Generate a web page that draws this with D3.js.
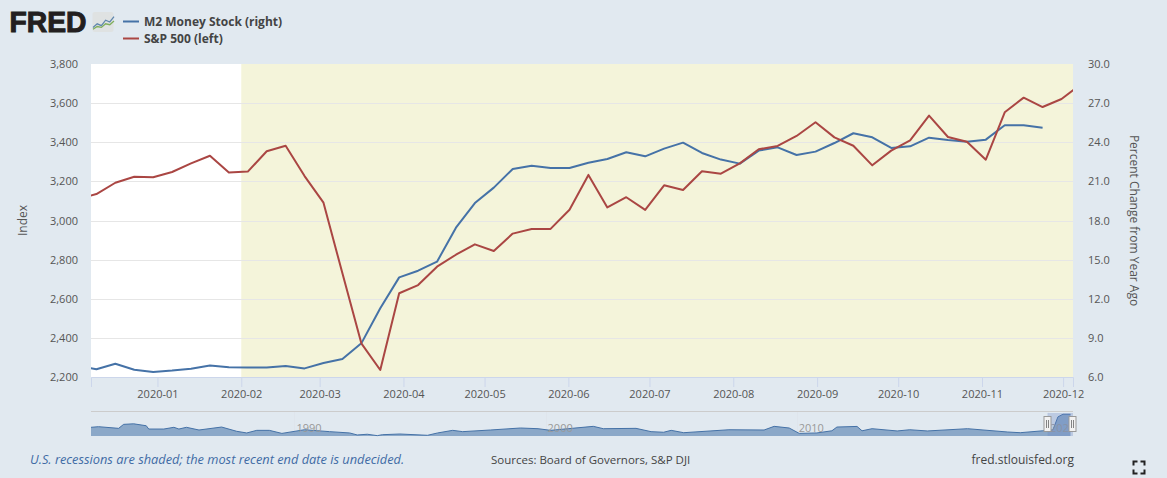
<!DOCTYPE html>
<html>
<head>
<meta charset="utf-8">
<script src="https://cdn.jsdelivr.net/npm/d3@7"></script>
<style>
html,body{margin:0;padding:0;background:#e1e9f0;overflow:hidden}
svg{display:block}
text{font-family:"Open Sans",sans-serif}
</style>
</head>
<body>
<svg id="c" width="1167" height="478"></svg>
<script>
const sp500 = [3110,3135,3193,3224,3221,3248,3292,3331,3245,3250,3354,3382,3227,3091,2730,2372,2236,2628,2670,2764,2825,2878,2844,2933,2957,2957,3055,3233,3067,3119,3054,3180,3156,3252,3239,3292,3364,3381,3432,3502,3425,3382,3282,3357,3410,3536,3427,3403,3311,3553,3628,3580,3621,3695];
const m2 = [6.87,6.59,7.02,6.56,6.38,6.49,6.64,6.89,6.74,6.72,6.72,6.84,6.66,7.07,7.38,8.58,11.27,13.64,14.15,14.84,17.45,19.34,20.52,21.95,22.2,22.03,22.03,22.43,22.72,23.23,22.92,23.51,23.97,23.18,22.67,22.36,23.36,23.61,23.02,23.28,23.94,24.69,24.38,23.56,23.69,24.35,24.17,24.04,24.2,25.3,25.3,25.12];
const navYears = [1981.9,1982.2,1983.0,1983.2,1983.6,1984.1,1984.2,1984.8,1985.2,1985.4,1985.7,1986.2,1987.1,1987.7,1988.1,1988.5,1989.0,1989.5,1990.4,1991.4,1992.2,1992.5,1992.9,1993.3,1993.5,1994.2,1995.3,1995.7,1996.3,1996.7,1997.8,1999.0,1999.7,2000.2,2001.9,2002.3,2003.6,2004.2,2004.7,2005.0,2005.5,2007.3,2008.7,2009.1,2009.7,2010.1,2010.8,2011.4,2011.6,2012.4,2012.6,2013.0,2014.0,2014.5,2015.2,2016.8,2018.4,2018.9,2019.8,2020.2,2020.4,2020.6,2020.9];
const navValues = [10,10.7,8.8,13.4,14,11.8,8,8,10,8,10,6.9,10.3,5.4,3.5,6.5,6.5,3,7.2,5,3.5,1.2,2,0.4,1.5,2.3,0.8,3.5,6.5,5,6.9,9.2,8.4,6.5,11.1,8.4,8.8,5,4.3,6.5,3.8,7.2,6.9,11.1,9.2,3,3.5,6,10.3,11,6,8.4,5.8,7.2,5.8,8.4,4.6,3.8,6,7,22,25,25];
const navLabels = [1990,2000,2010,2020];
const leftTicks = [2200,2400,2600,2800,3000,3200,3400,3600,3800];
const rightTicks = [6,9,12,15,18,21,24,27,30];
const firstWeek = new Date(Date.UTC(2019,11,2,10));
const weeks = d3.range(sp500.length).map(i => d3.utcDay.offset(firstWeek, 7*i));
const recessionStart = new Date(Date.UTC(2020,1,1));
const legendNames = ["M2 Money Stock (right)","S&P 500 (left)"];
const blue="#4572a7", red="#aa4643";

const L=91,R=1073,T=64,B=377;
const svg=d3.select("#c");
svg.append("defs").append("clipPath").attr("id","plot").append("rect").attr("x",L).attr("y",T-2).attr("width",R-L).attr("height",B-T+4);

const x=d3.scaleUtc().domain([new Date(Date.UTC(2019,11,7,10)),new Date(Date.UTC(2020,11,4,16))]).range([L,R]);
const yL=d3.scaleLinear().domain([2200,3800]).range([B,T]);
const yR=d3.scaleLinear().domain([6,30]).range([B,T]);

svg.append("rect").attr("x",L).attr("y",T).attr("width",R-L).attr("height",B-T).attr("fill","#fff");
svg.append("rect").attr("x",x(recessionStart)).attr("y",T).attr("width",R-x(recessionStart)).attr("height",B-T).attr("fill","#f4f4da");

svg.append("g").selectAll("line").data(leftTicks.slice(1,-1)).join("line")
  .attr("x1",L).attr("x2",R).attr("y1",d=>Math.round(yL(d))+.5).attr("y2",d=>Math.round(yL(d))+.5)
  .attr("stroke","#e6e6e6").attr("stroke-width",1);

// x axis
const xAxis=d3.axisBottom(x).tickValues(d3.utcMonth.range(new Date(Date.UTC(2020,0,1)),new Date(Date.UTC(2020,11,2)))).tickFormat(d3.utcFormat("%Y-%m")).tickSize(10).tickPadding(3);
const gx=svg.append("g").attr("transform",`translate(0,${B})`).call(xAxis);
gx.select(".domain").attr("stroke","#ccd6eb");
gx.selectAll(".tick line").attr("stroke","#ccd6eb");
gx.selectAll("text").attr("fill","#555").style("font-size","11px").style("font-family",'"Open Sans",sans-serif');

// y axes
const gl=svg.append("g").attr("transform",`translate(${L},0)`).call(d3.axisLeft(yL).tickValues(leftTicks).tickFormat(d3.format(",")).tickSize(0).tickPadding(13));
gl.select(".domain").remove();
gl.selectAll("text").attr("fill","#555").style("font-size","11px").style("font-family",'"Open Sans",sans-serif');
const gr=svg.append("g").attr("transform",`translate(${R},0)`).call(d3.axisRight(yR).tickValues(rightTicks).tickFormat(d3.format(".1f")).tickSize(0).tickPadding(15));
gr.select(".domain").remove();
gr.selectAll("text").attr("fill","#555").style("font-size","11px").style("font-family",'"Open Sans",sans-serif');

svg.append("text").attr("transform","translate(27,220.5) rotate(-90)").attr("text-anchor","middle").attr("fill","#555").style("font-size","12px").text("Index");
svg.append("text").attr("transform","translate(1130,220.5) rotate(90)").attr("text-anchor","middle").attr("fill","#555").style("font-size","12px").text("Percent Change from Year Ago");

// lines
const plot=svg.append("g").attr("clip-path","url(#plot)");
const lineOf=(y,vals)=>d3.line().x((d,i)=>x(weeks[i])).y(d=>y(d))(vals);
plot.append("path").attr("d",lineOf(yR,m2)).attr("fill","none").attr("stroke",blue).attr("stroke-width",2).attr("stroke-linejoin","round");
plot.append("path").attr("d",lineOf(yL,sp500)).attr("fill","none").attr("stroke",red).attr("stroke-width",2).attr("stroke-linejoin","round");

// legend
[blue,red].forEach((c,i)=>{
  const yy=21.5+i*17;
  svg.append("line").attr("x1",123).attr("x2",139).attr("y1",yy).attr("y2",yy).attr("stroke",c).attr("stroke-width",2);
  svg.append("text").attr("x",144).attr("y",yy+4).attr("fill","#444").style("font-size","12px").style("font-weight","700").text(legendNames[i]);
});

// logo
svg.append("text").attr("x",9.5).attr("y",31.5).attr("fill","#231f20").attr("textLength",77).attr("lengthAdjust","spacingAndGlyphs")
  .style("font-family",'"Liberation Sans",sans-serif').style("font-size","29px").style("font-weight","700").style("stroke","#231f20").style("stroke-width","1").text("FRED");
svg.append("rect").attr("x",92.5).attr("y",12).attr("width",21).attr("height",20).attr("rx",2).attr("fill","#dfe2e2");
const iconX=d3.scaleLinear().domain([0,5]).range([93,114]);
const iconY=d3.scaleLinear().domain([0,10]).range([31,13]);
const iconBlue=[2,4,3,6,5,8], iconGreen=[1,2.5,2,4,3.5,5.5];
[[iconBlue,"#5f87ad"],[iconGreen,"#7fae5c"]].forEach(([v,c])=>{
  svg.append("path").attr("d",d3.line().x((d,i)=>iconX(i)).y(d=>iconY(d))(v)).attr("fill","none").attr("stroke",c).attr("stroke-width",1.3);
});

// navigator
const nx=d3.scaleLinear().domain([1981.9,2021]).range([L,R]);
const ny=d3.scaleLinear().domain([0,25.3]).range([436,414]);
svg.append("line").attr("x1",L).attr("x2",R).attr("y1",411.5).attr("y2",411.5).attr("stroke","#ccc");
navLabels.forEach(yr=>{
  svg.append("line").attr("x1",Math.round(nx(yr))+.5).attr("x2",Math.round(nx(yr))+.5).attr("y1",412).attr("y2",436).attr("stroke","#dfe5ec");
});
svg.append("path").attr("d",d3.area().x((d,i)=>nx(navYears[i])).y0(436).y1(d=>ny(d))(navValues)).attr("fill",blue).attr("fill-opacity",.55);
svg.append("path").attr("d",d3.line().x((d,i)=>nx(navYears[i])).y(d=>ny(d))(navValues)).attr("fill","none").attr("stroke",blue).attr("stroke-width",1);
navLabels.forEach(yr=>{
  svg.append("text").attr("x",nx(yr)+2).attr("y",432).attr("fill","#999").style("font-size","11px").text(yr);
});
svg.append("rect").attr("x",1047.5).attr("y",413).attr("width",25.5).attr("height",23).attr("fill","#6685c2").attr("fill-opacity",.3);
[1047.5,1072.5].forEach(h=>{
  svg.append("rect").attr("x",h-3.5).attr("y",416.5).attr("width",7).attr("height",15).attr("fill","#f2f2f2").attr("stroke","#999");
  [-1,1].forEach(o=>svg.append("line").attr("x1",h+o).attr("x2",h+o).attr("y1",420).attr("y2",428).attr("stroke","#666").attr("stroke-width",.8));
});

// footer
svg.append("text").attr("x",30).attr("y",464).attr("fill","#3f6ba5").style("font-size","12.8px").style("font-style","italic").text("U.S. recessions are shaded; the most recent end date is undecided.");
svg.append("text").attr("x",491).attr("y",464).attr("fill","#444").style("font-size","11.5px").text("Sources: Board of Governors, S&P DJI");
svg.append("text").attr("x",1074).attr("y",464).attr("text-anchor","end").attr("fill","#444").style("font-size","12px").text("fred.stlouisfed.org");

// fullscreen icon
const fs=[[1133.5,465.5,1133.5,461.5,1137.5,461.5],[1140.5,461.5,1144.5,461.5,1144.5,465.5],[1144.5,469.5,1144.5,473.5,1140.5,473.5],[1137.5,473.5,1133.5,473.5,1133.5,469.5]];
fs.forEach(p=>svg.append("polyline").attr("points",p.join(",")).attr("fill","none").attr("stroke","#222").attr("stroke-width",2));
</script>
</body>
</html>
